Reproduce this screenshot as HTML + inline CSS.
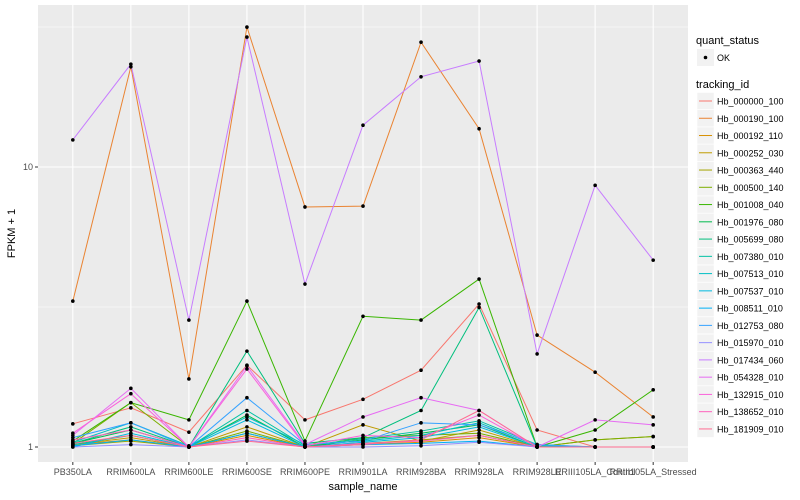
<!DOCTYPE html>
<html><head><meta charset="utf-8"><style>
body{margin:0;background:#fff;}
svg{display:block;font-family:"Liberation Sans",sans-serif;}
</style></head><body>
<svg id="chart" width="800" height="500" viewBox="0 0 800 500">
<rect x="38" y="5" width="650" height="457" fill="#EBEBEB"/>
<g id="grid"></g><g id="series"></g><g id="axes"></g><g id="legend"></g>
</svg>
<script>
const categories=["PB350LA","RRIM600LA","RRIM600LE","RRIM600SE","RRIM600PE","RRIM901LA","RRIM928BA","RRIM928LA","RRIM928LE","RRIII105LA_Control","RRIII105LA_Stressed"];
const seriesNames=["Hb_000000_100","Hb_000190_100","Hb_000192_110","Hb_000252_030","Hb_000363_440","Hb_000500_140","Hb_001008_040","Hb_001976_080","Hb_005699_080","Hb_007380_010","Hb_007513_010","Hb_007537_010","Hb_008511_010","Hb_012753_080","Hb_015970_010","Hb_017434_060","Hb_054328_010","Hb_132915_010","Hb_138652_010","Hb_181909_010"];
const s000000=[1.21,1.38,1.13,1.96,1.25,1.48,1.88,3.24,1.15,1.0,1.0];
const s000190=[3.32,22.8,1.75,31.6,7.2,7.25,27.9,13.7,2.51,1.85,1.28];
const s000192=[1.02,1.06,1.0,1.1,1.0,1.02,1.04,1.08,1.0,1.0,1.0];
const s000252=[1.02,1.08,1.0,1.18,1.0,1.2,1.05,1.15,1.0,1.0,1.0];
const s000363=[1.01,1.05,1.0,1.12,1.0,1.03,1.06,1.1,1.0,1.06,1.09];
const s000500=[1.03,1.44,1.0,1.14,1.0,1.08,1.1,1.12,1.0,1.06,1.09];
const s001008=[1.05,1.44,1.25,3.32,1.05,2.93,2.84,3.98,1.0,1.15,1.6];
const s001976=[1.03,1.15,1.0,1.3,1.0,1.06,1.12,1.2,1.0,1.0,1.0];
const s005699=[1.03,1.18,1.0,2.2,1.03,1.08,1.35,3.15,1.0,1.0,1.0];
const s007380=[1.02,1.1,1.0,1.35,1.01,1.07,1.14,1.24,1.02,1.0,1.0];
const s007513=[1.04,1.22,1.01,1.28,1.02,1.05,1.1,1.22,1.01,1.0,1.0];
const s007537=[1.0,1.12,1.0,1.25,1.0,1.04,1.08,1.18,1.0,1.0,1.0];
const s008511=[1.01,1.06,1.0,1.12,1.0,1.02,1.03,1.05,1.0,1.0,1.0];
const s012753=[1.08,1.22,1.0,1.5,1.02,1.05,1.22,1.2,1.02,1.0,1.0];
const s015970=[1.0,1.02,1.0,1.06,1.0,1.0,1.01,1.04,1.0,1.0,1.0];
const s017434=[12.5,23.3,2.84,29.1,3.82,14.1,21.0,23.9,2.15,8.6,4.65];
const s054328=[1.1,1.62,1.0,1.95,1.02,1.28,1.5,1.35,1.0,1.25,1.2];
const s132915=[1.12,1.55,1.0,1.9,1.01,1.1,1.08,1.3,1.0,1.0,1.0];
const s138652=[1.06,1.15,1.0,1.08,1.0,1.03,1.05,1.1,1.0,1.0,1.0];
const s181909=[1.03,1.1,1.0,1.05,1.0,1.02,1.06,1.35,1.0,1.0,1.0];
const seriesValues=[s000000,s000190,s000192,s000252,s000363,s000500,s001008,s001976,s005699,s007380,s007513,s007537,s008511,s012753,s015970,s017434,s054328,s132915,s138652,s181909];
const yTicks=[1,10];
const yMinor=[Math.sqrt(10),Math.sqrt(1000)];
const colors=["#F8766D","#EA8331","#D89000","#C09B00","#A3A500","#7CAE00","#39B600","#00BB4E","#00BF7D","#00C1A3","#00BFC4","#00BAE0","#00B0F6","#35A2FF","#9590FF","#C77CFF","#E76BF3","#FA62DB","#FF62BC","#FF6C91"];
const NS="http://www.w3.org/2000/svg";
const x0=38,x1=688,yTop=5,yBot=462;
const step=(x1-x0)/(categories.length+0.2);
function xScale(i){return x0+step*(0.6+i);}
function yScale(v){return 447-280*Math.log10(v);}
function mk(tag,attrs,parent){const e=document.createElementNS(NS,tag);for(const k in attrs)e.setAttribute(k,attrs[k]);parent.appendChild(e);return e;}
const grid=document.getElementById('grid'),ser=document.getElementById('series'),axes=document.getElementById('axes'),leg=document.getElementById('legend');
yMinor.forEach(v=>{const l=mk('line',{x1:x0,x2:x1,y1:yScale(v),y2:yScale(v),stroke:'#fff','stroke-width':0.5},grid);

});
yTicks.forEach(v=>{const y=yScale(v);const l=mk('line',{x1:x0,x2:x1,y1:y,y2:y,stroke:'#fff','stroke-width':1.1},grid);


mk('line',{x1:35,x2:38,y1:y,y2:y,stroke:'#333','stroke-width':1},axes);
const t=mk('text',{x:33,y:y+3,'text-anchor':'end','font-size':9,fill:'#4d4d4d'},axes);t.textContent=v;

});
categories.forEach((c,i)=>{const x=xScale(i);const l=mk('line',{x1:x,x2:x,y1:yTop,y2:yBot,stroke:'#fff','stroke-width':1.1},grid);


mk('line',{x1:x,x2:x,y1:462,y2:465,stroke:'#333','stroke-width':1},axes);
const t=mk('text',{x:x,y:475,'text-anchor':'middle','font-size':9,fill:'#4d4d4d'},axes);t.textContent=c;

});
seriesValues.forEach((vals,s)=>{const p=mk('polyline',{points:vals.map((v,i)=>xScale(i)+','+yScale(v)).join(' '),fill:'none',stroke:colors[s],'stroke-width':1},ser);

});
seriesValues.forEach((vals,s)=>{vals.forEach((v,i)=>{const c=mk('circle',{cx:xScale(i),cy:yScale(v),r:1.8,fill:'#000'},ser);

});});
const xt=mk('text',{x:(x0+x1)/2,y:490,'text-anchor':'middle','font-size':11,fill:'#000'},axes);xt.textContent='sample_name';


const yt=mk('text',{x:0,y:0,'text-anchor':'middle','font-size':11,fill:'#000',transform:'translate(15,'+((yTop+yBot)/2)+') rotate(-90)'},axes);yt.textContent='FPKM + 1';


const qt=mk('text',{x:696,y:44,'font-size':11},leg);qt.textContent='quant_status';


mk('rect',{x:697,y:49,width:17,height:17,fill:'#F2F2F2'},leg);
mk('circle',{cx:705.5,cy:57.5,r:1.8,fill:'#000'},leg);
const ok=mk('text',{x:717,y:61,'font-size':9},leg);ok.textContent='OK';


const tt=mk('text',{x:696,y:88,'font-size':11},leg);tt.textContent='tracking_id';


seriesNames.forEach((n,i)=>{const y=92.5+i*17.26;
mk('rect',{x:697,y:y,width:17,height:17,fill:'#F2F2F2',stroke:'#fff','stroke-width':0.5},leg);
mk('line',{x1:699,x2:712,y1:y+8.5,y2:y+8.5,stroke:colors[i],'stroke-width':1},leg);
const t=mk('text',{x:717,y:y+12,'font-size':9},leg);t.textContent=n;

});
</script>
</body></html>
